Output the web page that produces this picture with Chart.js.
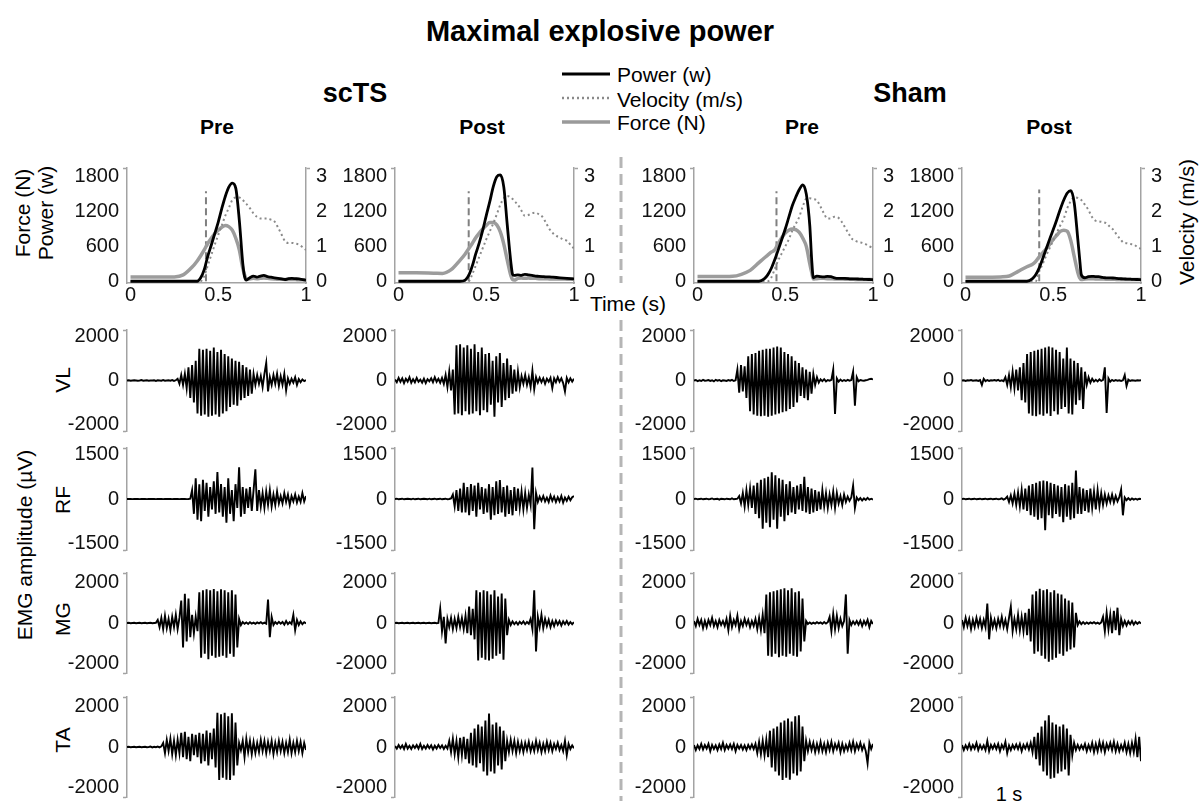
<!DOCTYPE html>
<html><head><meta charset="utf-8">
<script src="https://cdn.jsdelivr.net/npm/chart.js@4.4.1/dist/chart.umd.min.js"></script>
<style>
html,body{margin:0;padding:0}
body{width:1199px;height:801px;overflow:hidden;background:#fff;position:relative;font-family:"Liberation Sans",Arial,sans-serif;color:#000}
.t{position:absolute;white-space:nowrap;line-height:1;transform:translate(-50%,-50%)}
.r{transform:translate(-50%,-50%) rotate(-90deg)}
.b{font-weight:bold}
.l{position:absolute;white-space:nowrap;line-height:1;transform:translate(0,-50%);font-size:21px}
</style></head><body>

<div class="t b" style="left:600px;top:31px;font-size:29px">Maximal explosive power</div>
<div class="t b" style="left:355px;top:93px;font-size:27px">scTS</div>
<div class="t b" style="left:910px;top:93px;font-size:27px">Sham</div>
<div class="t b" style="left:217px;top:126px;font-size:21px">Pre</div>
<div class="t b" style="left:482px;top:126px;font-size:21px">Post</div>
<div class="t b" style="left:802px;top:126px;font-size:21px">Pre</div>
<div class="t b" style="left:1049px;top:126px;font-size:21px">Post</div>

<svg style="position:absolute;left:560px;top:60px" width="54" height="75">
  <line x1="2" y1="14" x2="50" y2="14" stroke="#000" stroke-width="3"/>
  <line x1="2" y1="38" x2="50" y2="38" stroke="#8a8a8a" stroke-width="2.5" stroke-dasharray="2 3"/>
  <line x1="2" y1="62" x2="50" y2="62" stroke="#9a9a9a" stroke-width="3.5"/>
</svg>
<div class="l" style="left:617px;top:74px">Power (w)</div>
<div class="l" style="left:617px;top:99px">Velocity (m/s)</div>
<div class="l" style="left:617px;top:122px">Force (N)</div>

<div class="t r" style="left:22px;top:213px;font-size:21px">Force (N)</div>
<div class="t r" style="left:45px;top:213px;font-size:21px">Power (w)</div>
<div class="t r" style="left:1186px;top:222px;font-size:21px">Velocity (m/s)</div>
<div class="t" style="left:628px;top:303px;font-size:21px">Time (s)</div>
<div class="t r" style="left:24px;top:545px;font-size:21px">EMG amplitude (µV)</div>
<div class="t r" style="left:62px;top:380px;font-size:21px">VL</div>
<div class="t r" style="left:62px;top:500px;font-size:21px">RF</div>
<div class="t r" style="left:62px;top:619px;font-size:21px">MG</div>
<div class="t r" style="left:62px;top:740px;font-size:21px">TA</div>
<div class="t" style="left:1009px;top:794px;font-size:20px">1 s</div>

<svg style="position:absolute;left:618px;top:150px" width="6" height="651">
  <line x1="3" y1="7" x2="3" y2="133" stroke="#b5b5b5" stroke-width="3" stroke-dasharray="11 6"/>
  <line x1="3" y1="170" x2="3" y2="651" stroke="#b5b5b5" stroke-width="3" stroke-dasharray="11 6"/>
</svg>

<script>
// ---------- DATA ----------
const timeTicks = [0, 0.5, 1];
const forceTicks = [0, 600, 1200, 1800];
const velocityTicks = [0, 1, 2, 3];
const emgTicks2000 = [-2000, 0, 2000];
const emgTicks1500 = [-1500, 0, 1500];

const topTime = [0,0.1,0.2,0.25,0.3,0.35,0.38,0.4,0.42,0.44,0.46,0.48,0.5,0.52,0.54,0.56,0.58,0.6,0.62,0.64,0.65,0.66,0.68,0.7,0.72,0.74,0.76,0.78,0.8,0.82,0.84,0.86,0.88,0.9,0.92,0.94,0.96,0.98,1.0];
const onsetTimes = [0.43, 0.40, 0.45, 0.42];
const onsetTop = [1550, 1550, 1550, 1580];

const forceScTSPre = [72,72,72,75,110,240,350,440,540,650,740,820,880,930,960,940,880,740,540,220,110,40,40,50,45,50,55,50,45,40,35,35,30,30,30,30,25,25,20];
const powerScTSPre = [0,0,0,0,0,0,0,60,200,430,620,820,1020,1250,1460,1620,1690,1600,1050,300,80,20,60,90,70,90,100,80,70,60,50,40,30,45,50,45,40,30,20];
const velocityScTSPre = [0,0,0,0,0,0,0,0,0.15,0.45,0.75,1.05,1.33,1.6,1.88,2.1,2.33,2.4,2.4,2.33,2.27,2.22,2.1,1.95,1.85,1.8,1.8,1.8,1.77,1.72,1.55,1.35,1.15,1.1,1.1,1.08,1.05,0.98,0.9];

const forceScTSPost = [145,145,140,135,200,360,470,560,650,750,830,900,960,1010,1010,970,850,640,360,100,30,20,50,55,50,55,50,50,45,45,45,40,40,40,40,40,35,35,35];
const powerScTSPost = [0,0,0,0,0,0,20,100,260,470,660,880,1130,1370,1630,1800,1830,1620,960,330,120,100,110,100,120,110,100,90,85,80,75,75,70,65,60,55,50,45,40];
const velocityScTSPost = [0,0,0,0,0,0,0,0,0.2,0.45,0.7,0.95,1.2,1.43,1.66,1.92,2.19,2.38,2.45,2.4,2.36,2.3,2.2,2.03,1.88,1.9,1.95,1.97,1.92,1.85,1.68,1.5,1.38,1.3,1.25,1.2,1.16,1.05,0.94];

const forceShamPre = [80,80,85,120,188,320,400,450,500,540,650,750,830,880,900,890,840,740,600,300,160,40,45,50,50,45,45,40,40,40,35,35,35,30,30,30,30,30,30];
const powerShamPre = [0,0,0,0,0,0,40,110,220,370,540,720,900,1100,1300,1450,1580,1660,1500,950,400,60,90,80,75,85,80,60,50,50,48,45,40,40,38,35,32,30,28];
const velocityShamPre = [0,0,0,0,0,0,0,0,0.1,0.35,0.6,0.8,1.0,1.2,1.45,1.65,1.85,2.15,2.37,2.38,2.37,2.36,2.32,2.15,1.95,1.8,1.8,1.85,1.83,1.72,1.55,1.38,1.22,1.16,1.12,1.1,1.06,1.0,0.96];

const forceShamPost = [67,67,75,90,170,250,290,340,420,490,560,640,720,790,860,880,860,700,420,150,60,30,40,45,45,40,40,40,35,35,35,30,30,30,30,30,30,30,30];
const powerShamPost = [0,0,0,0,0,0,40,110,230,390,560,730,890,1060,1240,1400,1520,1560,1340,720,400,110,60,80,85,80,80,65,60,58,56,50,45,40,38,35,32,30,28];
const velocityShamPost = [0,0,0,0,0,0,0,0,0.28,0.5,0.74,0.96,1.17,1.39,1.6,1.8,2.1,2.3,2.41,2.39,2.36,2.33,2.2,2.05,1.85,1.74,1.72,1.7,1.67,1.58,1.49,1.35,1.22,1.11,1.09,1.07,1.05,0.98,0.93];

// EMG traces (µV), 100 samples over 1 s
const vlScTSPre = [0,10,-10,0,10,0,-10,0,20,-10,0,10,-10,0,0,10,-20,10,0,-10,20,-10,0,10,-10,20,-20,10,
 80,-150,250,-200,300,-350, 600,-800,700,-1000,900,
 -1500,1450,-1600,1400,-1550,1450,-1650,1350,-1600,1500,-1550,1300,-1650,1400,-1500,1200,-1400,1100,
 -1200,1000,-1100,900,-1150,850, -900,700,-800,600,-700,500,-600,300,
 -200,250,-150,200,-300,300,800, -500,150,-200,250,-150,300,-250,200,-200,300,-450,
 100,-150,80,-100,150,-200,60,-80,50,-30,20];
const vlScTSPost = [50,-80,120,-60,100,-120,80,-50,150,-100,60,-80,120,-60,40,-100,80,-120,60,-40,100,-80,150,-60,80,-100,120,-150,
 250,-300,400,-450,500,
 -1550,1600,-1500,1650,-1580,1500,-1400,1600,-1550,1450,-1500,1650,-1400,1300,-1580,1500,-1350,1200,-1450,
 1250,-1100,900,-1650,1100,-1000,1250,-1200,800,-900,1000,
 -800,700,-600,500,-500,400,-300, 200,-150,250,-200,150,-300,450,-400,
 150,-100,120,-80,100,-150,80,-60,120,-350,100,-80,150,-60,100,-120,-500,120,-80,100,-50,80];
const vlShamPre = [0,20,-30,10,-20,30,-10,0,20,-20,10,-40,30,-10,20,-30,10,0,-20,20,-10,30,-20,10,
 500,-550,700,-500,650,-800,
 1100,-1400,1200,-1550,1250,-1600,1350,-1630,1400,-1600,1450,-1650,1450,-1600,1500,-1550,1550,-1500,1500,-1450,1300,-1400,1200,-1300,1100,-1200,900,-1000,
 800,-700,600,-800,500,-900,400, -600,300,-200,150,-100, 50,-30,60,-40,20,-10,30,
 500,-1520, 100,-50,40,-30,20,-20,30,-10,20, 400,-1150, 150,-40,20,0,-10,10,30,60,80,50];
const vlShamPost = [0,10,-20,10,0,20,-10,0,10,-20,20, -200,
 80,-30,20,-20,10,0,20,-10,30,-20,10,-30,
 150,-200,250,-300,400,-350,500,-450,600, -900,800,-1000,
 1200,-1500,1300,-1600,1350,-1630,1400,-1550,1450,-1600,1500,-1500,1550,-1620,1500,-1400,1400,-1550,1300,-1300,1000,-1200,1500,-1500,
 1000,-1550,900,-1100,800,-900,600,-1300,400,-200,
 150,-100,80,-50,30,-40,50,-20,30, 600,-1480, 100,-50,30,-20,20,-10,10,-20,10, 250,-250, 40,-20,10,0,-10,10,0,10];

const rfScTSPre = [0,0,5,-5,0,5,0,-5,0,0,5,-5,0,0,5,0,-5,0,0,5,-5,0,5,0,0,-5,0,5,0,-5,0,0,5,-5,0,10,
 300,-500,700,-700,500,-750,650,-400,550,-600,400,-350,600,-500,910,
 -450,500,-600,400,-800,700,-500,300,-750,500,-300,1070,
 -600,400,-500,350,-300,400,-400,300,1000,
 -400,300,-250,200,-300,250,-200,300,-250,150,-200,250,-150,100,
 -150,200,-100,150,-200,100,-80,150,-120,80,-100,200,-80,100];
const rfScTSPost = [0,10,-10,0,10,-10,0,10,0,-10,10,-10,0,10,-10,0,10,0,-10,10,-10,0,10,-10,0,10,-10,0,10,-10,0,20,
 150,-250,300,-400,350,-450,
 550,-450,400,-550,500,-400,450,-600,550,-350,400,-500,
 350,-450,500,-700,400,-550,600,-500,640,-450,
 400,-600,450,-500,300,-550,400,-400,350,-300,250,-350,200,-300,150,-200,
 1060,-1020,
 200,-100,80,-60,100,-80,50,-100,120,-60,80,-100,60,-80,100,-120,50,-60,80,-40,60,100];
const rfShamPre = [0,10,-10,0,10,-10,0,10,-10,0,20,-10,0,10,-20,10,0,-10,10,0,-10,20,-10,0,10,
 100,-150,200,-250,300,-200,350,-300,450,-500,
 550,-650,650,-1000,700,-800,750,-950,900,-700,800,-1000,700,-600,650,-750,500,-550,600,-450,
 400,-500,450,-350,500,-400,750,
 -450,400,-500,350,-450,300,-400,250,-350,300,
 -250,200,-300,150,-200,250,-300,200,-150,100,-200,150,-100,80,-60,50,
 450,-300, 50,-40,30,-50,20,-30,40,-20,10,-20];
const rfShamPost = [0,10,-10,0,10,-10,0,10,-10,0,10,-10,0,10,-10,0,10,-10,0,10,-10,0,20,-20,10,
 80,-100,120,-150,180,-200,220,-250,300,-350,350,-400,
 450,-550,500,-600,550,-700,600,-650,620,-1050,600,-550,550,-650,500,-500,450,-600,
 400,-780,500,-600,450,-700,550,-650,960,-500,
 400,-500,350,-400,300,-450,350,-300,250,-350,300,-250,200,-200,150,
 -150,120,-100,150,-120,100,-80,60, 320,-550, 50,-40,30,-30,20,-20,10,-20,10,0];

const mgScTSPre = [0,10,-10,0,10,-10,0,10,-10,0,10,-10,0,10,-10,0,10,
 150,-200,250,-300,350,-250,200,-350,300,-200,400,-300,250,
 1100,-1200,1430,-900,1200,-700, 400,-500,300,-400,
 1500,-1700,1600,-1500,1650,-1770,1600,-1600,1670,-1700,1550,-1650,1650,-1600,1600,-1700,1500,-1500,1600,-1650,1400,-1200,
 200,-100,50,-40,30,-50,40,-30,20,-40,30,-20,40,-30,20,-30,
 1150,-700,300, -100,50,-40,60,-30,50,-80,100,-60,40,-50, 400,-350, 150,-100,80,-60,40,-20];
const mgScTSPost = [0,10,-10,0,10,-10,0,10,-10,0,10,-10,0,10,-10,0,10,-10,0,10,-10,0,10,-10,0,
 700,-400,300,-1000,200,
 -200,250,-300,200,-250,300,-200,250,-300,350,
 -500,800,-600,700,-800,
 1600,-1840,1500,-1700,1600,-1800,1550,-1840,1400,-1750,1600,-1600,1300,-1500,1450,-1800,1200,-600,
 150,-100,80,-60,50,-80,60,-40,80,-60,50,-40,200,-300,
 1600,-1400,
 300,-200,400,-250,200,-150,150,-200,100,-150,120,-80,100,-120,80,-60,100,-80,50,-60,40];
const mgShamPre = [100,-150,200,-100,150,-250,100,-200,150,-100,250,-150,100,-200,150,-100,100,-150,200,-350,350,-200,150,-100,350,-300,100,-150,200,-100,150,-200,100,-150,200,
 -300,250,-350,400,-500,
 1400,-1600,1500,-1650,1550,-1500,1600,-1680,1650,-1600,1700,-1650,1600,-1500,1700,-1600,1500,-1650,1550,-1400,1200,-900,
 100,-50,30,-40,20,-30,40,-20,30,-40,50,-30,40,
 300,-400,450,-300,350,-250,200,-150,100,
 1400,-1500,
 150,-100,80,-60,100,-80,120,-150,100,-80,150,-200,100,-50];
const mgShamPost = [150,-200,250,-150,200,-300,150,-200,250,-150,200,-250,150,-200,950,-800,250,-200,150,-250,200,-150,300,-200,150,-300,250,800,-400,200,-300,400,-350,300,-400,
 500,-600,700,
 -900,1400,-1500,1550,-1400,1680,-1600,1600,-1750,1650,-1900,1500,-1800,1600,-1700,1450,-1500,1400,-1600,1200,-1400,1100,-1300,1000,-1200,500,
 -100,80,-60,40,-50,30,-40,30,-20,40,-30,20,-40,30,
 300,-400,500,-300,400,-500,600,-350,750,-600,
 200,-150,100,-120,80,-60,100,-80,60,-40,50,-30];

const taScTSPre = [0,10,-10,0,10,-10,0,10,-10,0,10,-10,0,20,-20,10,-10,20,-20,30,
 200,-300,350,-200,400,-350,300,-400,350,-300,
 700,-500,740,-600,500,-700,650,-400,600,-500,
 700,-800,650,-700,800,-900,700,-600,900,-1000,
 1680,-1620,1600,-1500,1680,-1600,1500,-1620,1650,-1400,1200,-900,
 200,-150,300,-500,
 400,-250,300,-350,250,-300,200,-250,350,-200,300,-300,250,-200,300,-350,200,-250,300,-200,250,-300,200,-250,350,-300,200,-250,300,-200,250,-300,200,-150];
const taScTSPost = [50,-80,100,-60,80,-100,150,-80,60,-100,80,-50,100,-80,150,-100,60,-80,100,-60,80,-120,60,-80,100,-50,80,-100,60,-80,
 300,-250,400,-350,300,-500,450,-400,500,-600,400,-800,
 700,-900,900,-1000,1100,-800,1000,-1200,1300,-1400,1640,-1200,1100,-1300,1200,-900,1000,-1100,800,-700,
 300,-250,350,-200,300,-300,250,-200,200,-250,
 200,-150,250,-200,150,-200,300,-150,200,-250,150,-200,250,-150,200,-200,150,-100,200,-150,100,-200,300,-400,150,-100,80,-60];
const taShamPre = [100,-150,80,-100,150,-120,100,-80,150,-200,100,-100,80,-150,120,-100,200,-150,100,-80,120,-100,150,-200,100,-80,100,-120,80,-150,100,-80,120,-100,150,
 -300,250,-350,300,-400,350,-500,
 800,-1000,900,-1200,1000,-1400,1200,-1620,1300,-1500,1400,-1600,1250,-1300,1500,-1400,1560,-1200,1000,-700,
 300,-200,250,-150,200,-250,150,-200,
 250,-200,150,-250,200,-150,250,-200,150,-100,200,-250,150,-200,100,-150,200,-150,250,-200,150,-100,200,-150,100,-200,-800,200,-100,150];
const taShamPost = [100,-150,80,-100,150,-120,100,-80,200,-150,100,-100,80,-150,300,-200,100,-80,120,-100,150,-200,100,-80,250,-300,80,-150,100,-80,120,-100,150,-200,100,-80,150,-120,200,-250,
 500,-600,700,-900,1000,-1200,1300,-1400,1560,-1560,1200,-1500,1100,-1300,1000,-1200,1100,-1100,900,-1400,600,-400,
 200,-150,100,-120,80,-100,150,-200,100,-150,200,-250,150,-200,250,-150,200,-250,150,-100,200,-150,250,-200,150,-200,100,-150,200,-250,150,-300,200,-250,400,-500,500,-700];

// ---------- DRAWING ----------
Chart.defaults.font.family = '"Liberation Sans", Arial, sans-serif';
Chart.defaults.font.size = 20;
Chart.defaults.color = '#111';
const AXIS = '#a3a3a3';
const colX = [127, 395, 694, 962];
const PW = 179;

function mk(left, top, w, h) {
  const c = document.createElement('canvas');
  c.width = w; c.height = h;
  c.style.cssText = `position:absolute;left:${left}px;top:${top}px;width:${w}px;height:${h}px`;
  document.body.appendChild(c);
  return c;
}

function yAxis(pos, min, max, labelTicks, width, endTicks, pad) {
  const all = labelTicks.concat(endTicks).sort((a, b) => a - b);
  return {
    type: 'linear', position: pos, min: min, max: max,
    afterBuildTicks: s => { s.ticks = all.map(v => ({ value: v })); },
    afterFit: s => { s.width = width; },
    grid: {
      display: true, drawOnChartArea: false, drawTicks: true, tickLength: 4, tickWidth: 1.5,
      tickColor: c => (c.tick && endTicks.includes(c.tick.value)) ? AXIS : 'rgba(0,0,0,0)'
    },
    border: { display: true, color: AXIS, width: 1.5 },
    ticks: { autoSkip: false, padding: pad, color: '#111', font: { size: 20 },
      callback: v => labelTicks.includes(v) ? String(v) : '' }
  };
}

const baseOpts = {
  responsive: false, animation: false, events: [],
  plugins: { legend: { display: false }, tooltip: { enabled: false } },
  elements: { point: { radius: 0 }, line: { tension: 0 } }
};

function topChart(i, power, velocity, force) {
  const L = 72, R = 45, padT = 14, plotH = 119, xH = 30;
  const c = mk(colX[i] - L, 164 - padT, L + PW + R, padT + plotH + xH);
  const pts = arr => topTime.map((t, k) => ({ x: t, y: arr[k] }));
  const yMin = -30, yMax = 1950;
  new Chart(c, {
    type: 'line',
    data: { datasets: [
      { data: pts(power), yAxisID: 'y', borderColor: '#000', borderWidth: 2.8, cubicInterpolationMode: 'monotone', order: 1 },
      { data: pts(velocity), yAxisID: 'y2', borderColor: '#8a8a8a', borderWidth: 2, borderDash: [2, 3], cubicInterpolationMode: 'monotone', order: 2 },
      { data: pts(force), yAxisID: 'y', borderColor: '#9c9c9c', borderWidth: 3.5, cubicInterpolationMode: 'monotone', order: 3 },
      { data: [{ x: onsetTimes[i], y: 0 }, { x: onsetTimes[i], y: onsetTop[i] }], yAxisID: 'y', borderColor: '#808080', borderWidth: 2, borderDash: [7, 4], order: 4 }
    ] },
    options: Object.assign({}, baseOpts, {
      layout: { padding: { top: padT, left: 0, right: 0, bottom: 0 } },
      scales: {
        x: { type: 'linear', min: -0.02, max: 1,
          afterBuildTicks: s => { s.ticks = timeTicks.map(v => ({ value: v })); },
          afterFit: s => { s.height = xH; },
          grid: { display: false, drawTicks: false },
          border: { display: true, color: AXIS, width: 1.5 },
          ticks: { padding: 0, autoSkip: false, maxRotation: 0, color: '#111', font: { size: 20 }, callback: v => String(v) } },
        y: yAxis('left', yMin, yMax, forceTicks, L, [yMax], 4),
        y2: yAxis('right', yMin / 600, yMax / 600, velocityTicks, R, [yMax / 600], 6)
      }
    })
  });
}

function emgChart(col, top, bottom, lim, values, labelTicks) {
  const L = 72, R = 6, pad = 14;
  const c = mk(colX[col] - L, top - pad, L + PW + R, bottom - top + 2 * pad);
  new Chart(c, {
    type: 'line',
    data: { datasets: [{ data: values.map((v, k) => ({ x: k, y: v })), borderColor: '#000', borderWidth: 1.9 }] },
    options: Object.assign({}, baseOpts, {
      layout: { padding: { top: pad, bottom: pad, right: R, left: 0 } },
      scales: {
        x: { type: 'linear', display: false, min: 0, max: values.length - 1 },
        y: yAxis('left', -lim, lim, labelTicks, L, [-lim, lim], 4)
      }
    })
  });
}

topChart(0, powerScTSPre, velocityScTSPre, forceScTSPre);
topChart(1, powerScTSPost, velocityScTSPost, forceScTSPost);
topChart(2, powerShamPre, velocityShamPre, forceShamPre);
topChart(3, powerShamPost, velocityShamPost, forceShamPost);

const emgRows = [
  { top: 328, bottom: 433, lim: 2300, ticks: emgTicks2000, traces: [vlScTSPre, vlScTSPost, vlShamPre, vlShamPost] },
  { top: 446, bottom: 552, lim: 1720, ticks: emgTicks1500, traces: [rfScTSPre, rfScTSPost, rfShamPre, rfShamPost] },
  { top: 571, bottom: 675, lim: 2450, ticks: emgTicks2000, traces: [mgScTSPre, mgScTSPost, mgShamPre, mgShamPost] },
  { top: 695, bottom: 799, lim: 2450, ticks: emgTicks2000, traces: [taScTSPre, taScTSPost, taShamPre, taShamPost] }
];
emgRows.forEach(r => r.traces.forEach((tr, col) => emgChart(col, r.top, r.bottom, r.lim, tr, r.ticks)));
</script>
</body></html>
